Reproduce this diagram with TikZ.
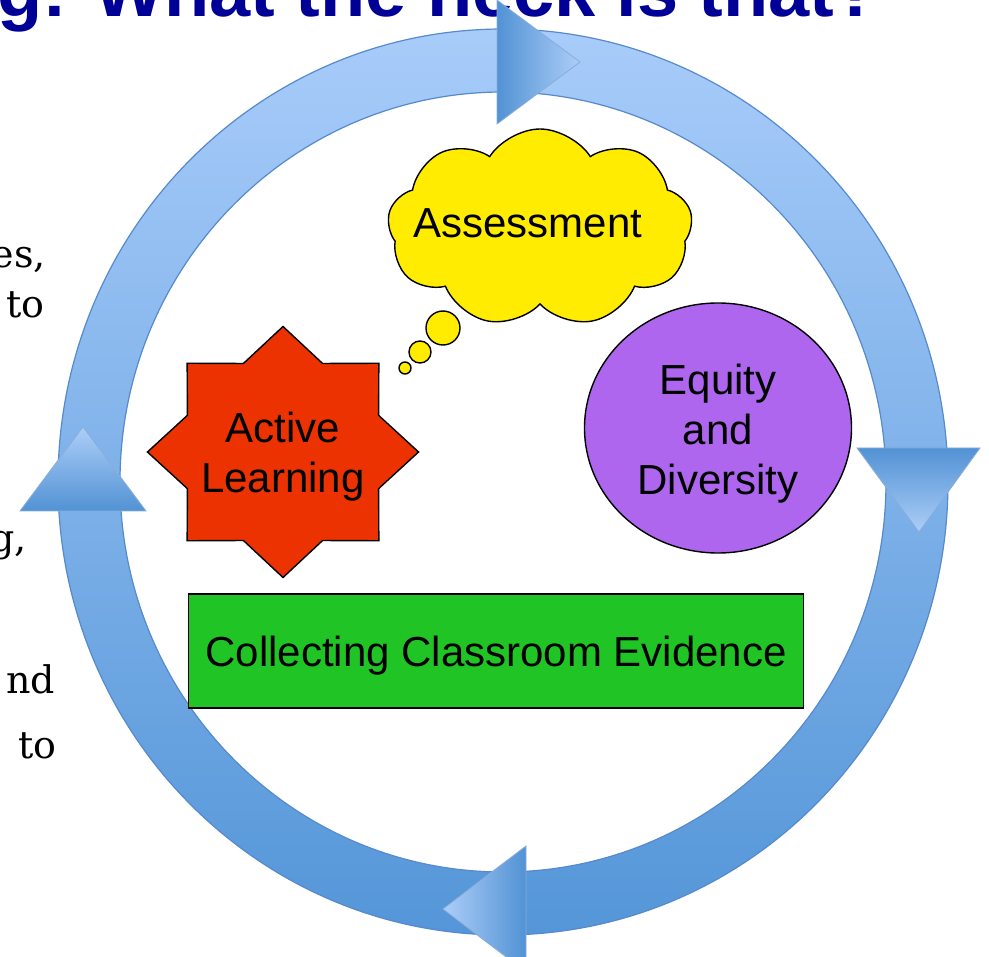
\documentclass[tikz,border=0pt]{standalone}
\usepackage{fontspec}
\setmainfont{Liberation Sans}
\newfontfamily\bodyserif{DejaVu Serif}
\usetikzlibrary{shapes.geometric,shapes.symbols}
\definecolor{titleblue}{RGB}{0,0,150}
\definecolor{ringlight}{RGB}{168,204,250}
\definecolor{ringdark}{RGB}{84,150,216}
\definecolor{ringedge}{RGB}{86,138,204}
\definecolor{headlight}{RGB}{172,206,248}
\definecolor{headdark}{RGB}{82,146,212}
\definecolor{cloudyellow}{RGB}{255,236,0}
\definecolor{starred}{RGB}{236,50,0}
\definecolor{equitypurple}{RGB}{174,102,238}
\definecolor{boxgreen}{RGB}{32,196,36}
\tikzset{
    ring/.style={draw=ringedge, line width=1.2pt, even odd rule, top color=ringlight, bottom color=ringdark},
    head/.style={draw=ringedge!70!white, line width=0.8pt},
    topic/.style={draw=black, line width=1.4pt, inner sep=0pt, font=\fontsize{42}{50}\selectfont, align=center},
    bubble/.style={circle, draw=black, line width=1.4pt, fill=cloudyellow, inner sep=0pt},
    slidetext/.style={inner sep=0pt, anchor=base east, font=\bodyserif\fontsize{38}{48}\selectfont},
  }
\begin{document}
\begin{tikzpicture}[x=1pt, y=-1pt]
  \useasboundingbox (0,0) rectangle (989,957);
  \clip (0,0) rectangle (989,957);
  \fill[white] (0,0) rectangle (989,957);
  %title and slide text, cut by the frame
  \node[anchor=base west, inner sep=0pt, text=titleblue, font=\bfseries\fontsize{74}{80}\selectfont] (title) at (-3,17) {g: What the heck is that?};
  \node[slidetext] (frag1) at (46,268) {es,};
  \node[slidetext] (frag2) at (45,318) {to};
  \node[slidetext] (frag3) at (27,552) {g,};
  \node[slidetext] (frag4) at (55,693) {nd};
  \node[slidetext] (frag5) at (57,758) {to};

  %ring
  \coordinate (O) at (503,482);
  \path[ring] (O) ellipse [x radius=445, y radius=453] (O) ellipse [x radius=383, y radius=390];

  %arrow heads on the ring
  \coordinate (T1) at (497,0);   \coordinate (T2) at (497,124); \coordinate (T3) at (580,62);
  \coordinate (R1) at (857,448); \coordinate (R2) at (980,448); \coordinate (R3) at (919,532);
  \coordinate (B1) at (526,846); \coordinate (B2) at (526,972); \coordinate (B3) at (443,909);
  \coordinate (L1) at (20,511);  \coordinate (L2) at (146,511); \coordinate (L3) at (83,427);
  \shade[head, left color=headdark, right color=headlight] (T1) -- (T3) -- (T2) -- cycle;
  \shade[head, top color=headdark, bottom color=headlight] (R1) -- (R2) -- (R3) -- cycle;
  \shade[head, left color=headlight, right color=headdark] (B1) -- (B3) -- (B2) -- cycle;
  \shade[head, top color=headlight, bottom color=headdark] (L1) -- (L3) -- (L2) -- cycle;

  %thought cloud
  \node[cloud, cloud puffs=9, cloud puff arc=115, aspect=1.5, draw=black, line width=1.4pt, fill=cloudyellow, minimum width=305pt, minimum height=198pt, inner sep=0pt] (cloud) at (540,228) {};
  \node[anchor=base, inner sep=0pt, font=\fontsize{42}{50}\selectfont] (assess) at (528,238) {Assessment};
  \node[bubble, minimum size=34pt] (bub1) at (443,328) {};
  \node[bubble, minimum size=22pt] (bub2) at (420,352) {};
  \node[bubble, minimum size=12pt] (bub3) at (405,368) {};

  %topics
  \begin{scope}[shift={(283,452)}, xscale=1.08]
    \node[topic, star, star points=8, star point ratio=1.31, minimum size=251pt, fill=starred, transform shape] (active) at (0,0) {};
  \end{scope}
  \node[topic, draw=none] (activetxt) at (283,457) {Active\\Learning};
  \node[topic, ellipse, fill=equitypurple, minimum width=267pt, minimum height=250pt] (equity) at (718,428) {};
  \node[topic, draw=none] (equitytxt) at (718,434) {Equity\\and\\Diversity};
  \node[topic, rectangle, fill=boxgreen, minimum width=615pt, minimum height=114pt, text depth=0pt] (evidence) at (496,651) {Collecting Classroom Evidence};
\end{tikzpicture}
\end{document}
